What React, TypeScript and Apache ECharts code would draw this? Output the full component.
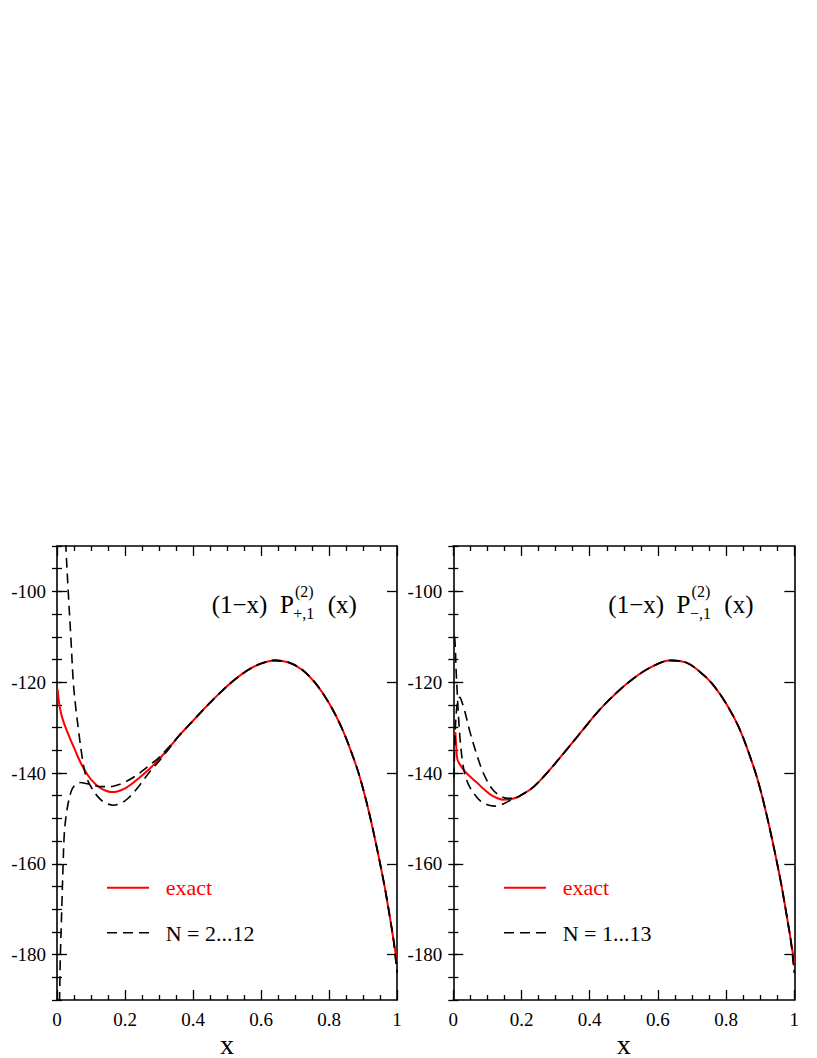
import React, { useEffect, useRef } from 'react';
import * as echarts from 'echarts';

const FONT = '"Liberation Serif", "Times New Roman", Times, serif';

// ---- data (x, y) ----
const yMajorTicks = [-180, -160, -140, -120, -100];

// left panel: (1-x) P+,1
const leftExactHead: number[][] = [
  [0.002, -121.6], [0.006, -124.5], [0.012, -126.9], [0.02, -128.9], [0.03, -130.9],
  [0.04, -132.7], [0.05, -134.4], [0.06, -136.2], [0.07, -137.8], [0.08, -139.2],
  [0.09, -140.4], [0.10, -141.4], [0.12, -142.9], [0.14, -143.8], [0.16, -144.2],
  [0.18, -144.0], [0.20, -143.4], [0.22, -142.4], [0.24, -141.2], [0.26, -139.9],
  [0.28, -138.5], [0.30, -137.0], [0.33, -134.4],
];
const leftDashAHead: number[][] = [
  [0.021, -82], [0.026, -90], [0.033, -100], [0.041, -110.5], [0.048, -120],
  [0.055, -125.5], [0.063, -130.4], [0.072, -135.5], [0.082, -139.8], [0.092, -141.9],
  [0.102, -143.3], [0.12, -145.2], [0.14, -146.5], [0.166, -147.1], [0.19, -146.6],
  [0.21, -145.5], [0.23, -143.9], [0.25, -142.0], [0.274, -139.6], [0.30, -137.4],
  [0.33, -134.6],
];
const leftDashBHead: number[][] = [
  [0.006, -194], [0.0075, -190], [0.010, -180], [0.014, -170], [0.018, -160],
  [0.021, -154], [0.025, -150.5], [0.032, -147], [0.043, -143.8], [0.055, -142.5],
  [0.068, -142.1], [0.085, -142.3], [0.107, -142.7], [0.13, -143.0], [0.156, -143.0],
  [0.18, -142.6], [0.20, -142.0], [0.224, -141.0], [0.25, -139.6], [0.275, -138.1],
  [0.30, -136.6], [0.33, -134.2],
];
const leftTail: number[][] = [
  [0.36, -131.7], [0.40, -128.5], [0.44, -125.3], [0.48, -122.3], [0.52, -119.6],
  [0.56, -117.4], [0.60, -115.9], [0.64, -115.2], [0.68, -115.6], [0.72, -117.2],
  [0.76, -120.2], [0.80, -124.6], [0.84, -130.5], [0.88, -138.4], [0.90, -143.4],
  [0.92, -149.4], [0.94, -156.2], [0.96, -163.6], [0.97, -167.7], [0.98, -172.2],
  [0.99, -176.9],
];
const leftExactEnd: number[][] = [[1.0, -181.6]];
const leftDashEnd: number[][] = [[1.0, -184.0]];

// right panel: (1-x) P-,1
const rightExactHead: number[][] = [
  [0.006, -131.0], [0.009, -134.5], [0.012, -137.0], [0.02, -138.2], [0.029, -139.2],
  [0.045, -140.5], [0.069, -142.1], [0.09, -143.6], [0.108, -144.7], [0.128, -145.5],
  [0.147, -145.9], [0.166, -145.8], [0.186, -145.4], [0.205, -144.6],
];
const rightDashAHead: number[][] = [
  [0.004, -110], [0.006, -112.5], [0.008, -117], [0.011, -121.5], [0.014, -126],
  [0.017, -129.5], [0.021, -133.5], [0.027, -137.5], [0.034, -140.3], [0.045, -142.6],
  [0.061, -144.6], [0.08, -146.2], [0.10, -147.0], [0.12, -147.3], [0.14, -147.0],
  [0.16, -146.3], [0.175, -145.7], [0.19, -145.2], [0.205, -144.6],
];
const rightDashBHead: number[][] = [
  [0.002, -141], [0.005, -132], [0.009, -126.5], [0.014, -123.8], [0.019, -123.3],
  [0.025, -124.3], [0.035, -126.8], [0.049, -131.0], [0.07, -136.2], [0.088, -140.0],
  [0.113, -143.4], [0.137, -145.0], [0.16, -145.6], [0.186, -145.4], [0.205, -144.6],
];
const rightTail: number[][] = [
  [0.225, -143.7], [0.25, -142.0], [0.284, -139.2], [0.333, -134.8], [0.381, -130.4],
  [0.43, -126.0], [0.479, -122.3], [0.528, -119.2], [0.577, -116.8], [0.635, -115.2],
  [0.684, -115.7], [0.723, -117.7], [0.76, -120.4], [0.80, -124.7], [0.84, -130.4],
  [0.88, -138.5], [0.90, -143.5], [0.92, -149.6], [0.94, -156.4], [0.96, -163.8],
  [0.97, -168.0], [0.98, -172.4], [0.99, -177.0],
];
const rightExactEnd: number[][] = [[1.0, -181.8]];
const rightDashEnd: number[][] = [[1.0, -184.0]];

const legendLabels = [
  ['exact', 'N = 2...12'],
  ['exact', 'N = 1...13'],
];
const titleSub = ['+,1', '−,1'];

const BLACK = '#000';
const RED = '#ff0000';
const DASH = [10, 6];

function xAxesFor(gridIndex: number) {
  const common = {
    type: 'value',
    gridIndex,
    min: 0,
    max: 1,
    interval: 0.2,
    axisLine: { show: true, onZero: false, lineStyle: { color: BLACK, width: 1.6 } },
    axisTick: { show: true, inside: true, length: 10, lineStyle: { color: BLACK, width: 1.3 } },
    minorTick: { show: true, splitNumber: 4, length: 5, lineStyle: { color: BLACK, width: 1.3 } },
    splitLine: { show: false },
    minorSplitLine: { show: false },
  };
  return [
    {
      ...common,
      position: 'bottom',
      axisLabel: { show: true, margin: 10, color: BLACK, fontSize: 19, fontFamily: FONT },
      name: 'x',
      nameLocation: 'middle',
      nameGap: 30,
      nameTextStyle: { fontSize: 28, fontFamily: FONT, color: BLACK },
    },
    { ...common, position: 'top', axisLabel: { show: false } },
  ];
}

function yAxesFor(gridIndex: number) {
  const major = {
    type: 'value',
    gridIndex,
    min: -190,
    max: -90,
    axisLine: { show: true, onZero: false, lineStyle: { color: BLACK, width: 1.6 } },
    axisTick: { show: true, inside: true, length: 10, customValues: yMajorTicks, lineStyle: { color: BLACK, width: 1.3 } },
    splitLine: { show: false },
  };
  const minor = {
    type: 'value',
    gridIndex,
    min: -190,
    max: -90,
    interval: 5,
    axisLine: { show: false },
    axisTick: { show: true, inside: true, length: 5, lineStyle: { color: BLACK, width: 1.3 } },
    axisLabel: { show: false },
    splitLine: { show: false },
  };
  return [
    {
      ...major,
      position: 'left',
      axisLabel: { show: true, customValues: yMajorTicks, margin: 11, color: BLACK, fontSize: 19, fontFamily: FONT },
    },
    { ...minor, position: 'left' },
    { ...major, position: 'right', axisLabel: { show: false } },
    { ...minor, position: 'right' },
  ];
}

function lineSeries(name: string, data: number[][], xi: number, yi: number, dashed: boolean) {
  return {
    type: 'line',
    name,
    xAxisIndex: xi,
    yAxisIndex: yi,
    data,
    showSymbol: false,
    symbol: 'none',
    smooth: 0.35,
    clip: true,
    z: dashed ? 3 : 2,
    lineStyle: dashed
      ? { color: BLACK, width: 1.6, type: DASH }
      : { color: RED, width: 2 },
  };
}

function panelGraphics(panel: number) {
  const dx = panel === 0 ? 0 : 396.6;
  const lx = panel === 0 ? 0 : 397;
  const txt = (x: number, y: number, text: string, size: number, color = BLACK) => ({
    type: 'text',
    x,
    y,
    style: {
      text,
      fill: color,
      fontSize: size,
      fontFamily: FONT,
      align: 'left',
      verticalAlign: 'middle',
    },
  });
  return [
    txt(211.7 + dx, 604.9, '(1−x)', 25),
    txt(280 + dx, 604.9, 'P', 25),
    txt(295 + dx, 591.3, '(2)', 16),
    txt(293.3 + dx, 613.6, titleSub[panel], 16),
    txt(327.7 + dx, 604.9, '(x)', 25),
    {
      type: 'line',
      shape: { x1: 107 + lx, y1: 887.7, x2: 149 + lx, y2: 887.7 },
      style: { stroke: RED, lineWidth: 2 },
    },
    txt(165.7 + lx, 887.6, legendLabels[panel][0], 22, RED),
    {
      type: 'line',
      shape: { x1: 107 + lx, y1: 932.7, x2: 149 + lx, y2: 932.7 },
      style: { stroke: BLACK, lineWidth: 1.6, lineDash: DASH },
    },
    txt(165.7 + lx, 933.3, legendLabels[panel][1], 22),
  ];
}

export default function App() {
  const ref = useRef<HTMLDivElement>(null);
  useEffect(() => {
    if (!ref.current) return;
    const chart = echarts.init(ref.current, null, { renderer: 'svg' });
    const option: any = {
      animation: false,
      backgroundColor: '#fff',
      grid: [
        { left: 57, right: 420, top: 546, bottom: 58, outerBoundsMode: 'none' },
        { left: 453.3, right: 22.7, top: 546, bottom: 58, outerBoundsMode: 'none' },
      ],
      xAxis: [...xAxesFor(0), ...xAxesFor(1)],
      yAxis: [...yAxesFor(0), ...yAxesFor(1)],
      series: [
        lineSeries('exact', leftExactHead.concat(leftTail, leftExactEnd), 0, 0, false),
        lineSeries(legendLabels[0][1] + ' a', leftDashAHead.concat(leftTail, leftDashEnd), 0, 0, true),
        lineSeries(legendLabels[0][1] + ' b', leftDashBHead.concat(leftTail, leftDashEnd), 0, 0, true),
        lineSeries('exact', rightExactHead.concat(rightTail, rightExactEnd), 2, 4, false),
        lineSeries(legendLabels[1][1] + ' a', rightDashAHead.concat(rightTail, rightDashEnd), 2, 4, true),
        lineSeries(legendLabels[1][1] + ' b', rightDashBHead.concat(rightTail, rightDashEnd), 2, 4, true),
      ],
      graphic: [...panelGraphics(0), ...panelGraphics(1)],
    };
    chart.setOption(option);
    return () => chart.dispose();
  }, []);
  return (
    <div
      ref={ref}
      style={{ position: 'absolute', left: 0, top: 0, width: 817, height: 1058, background: '#fff' }}
    />
  );
}
